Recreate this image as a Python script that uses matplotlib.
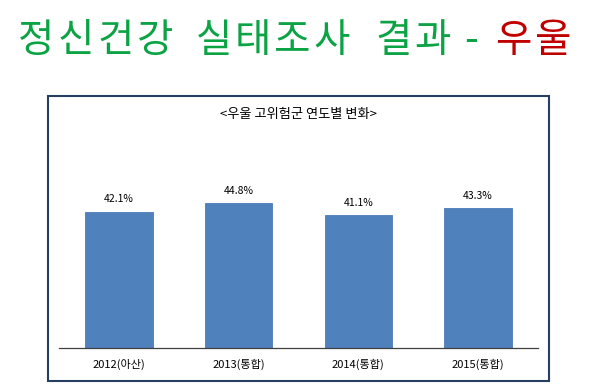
import matplotlib
matplotlib.use("Agg")
import matplotlib.pyplot as plt
from matplotlib.patches import Rectangle

plt.rcParams["font.family"] = ["Noto Sans CJK KR", "DejaVu Sans"]

# 데이터
categories = ["2012(아산)", "2013(통합)", "2014(통합)", "2015(통합)"]
values = [42.1, 44.8, 41.1, 43.3]
value_labels = ["42.1%", "44.8%", "41.1%", "43.3%"]

title_words = ["정신건강", "실태조사", "결과", "-", "우울"]
title_colors = ["#0ba344", "#0ba344", "#0ba344", "#0ba344", "#c00000"]

W, H = 600, 387
fig = plt.figure(figsize=(W / 100, H / 100), dpi=100)

# 큰 제목: 글자 간격이 넓어서 글자 하나씩 배치
word_x = [18, 195, 375, 463, 495]
pitch = 39.5
for word, col, x0 in zip(title_words, title_colors, word_x):
    for i, ch in enumerate(word):
        fig.text((x0 + pitch * i + 18.5) / W if ch != "-" else (x0 + 8) / W,
                 1 - 41 / H, ch, color=col, fontsize=28.5,
                 ha="center", va="center")

# 차트 테두리
box = Rectangle((48 / W, 1 - 381 / H), (549 - 48) / W, (381 - 96) / H,
                transform=fig.transFigure, fill=False,
                edgecolor="#243f60", linewidth=1.5)
fig.patches.append(box)

fig.text(298 / W, 1 - 114 / H, "<우울 고위험군 연도별 변화>",
         fontsize=9.5, ha="center", va="center", color="black")

# 막대 영역
ymax = 60
px_per_unit = 3.24
bottom_px, left_px, right_px = 348, 59, 538
top_px = bottom_px - ymax * px_per_unit
ax = fig.add_axes([left_px / W, 1 - bottom_px / H,
                   (right_px - left_px) / W, (bottom_px - top_px) / H])
x = range(len(categories))
ax.bar(x, values, width=0.565, color="#4f81bd", edgecolor="#4a7bb7", linewidth=0.6)
for i, (v, lab) in enumerate(zip(values, value_labels)):
    ax.text(i, v + 2.2, lab, ha="center", va="bottom", fontsize=7.5, color="black")

ax.set_xlim(-0.5, 3.5)
ax.set_ylim(0, ymax)
ax.set_xticks(list(x))
ax.set_xticklabels(categories, fontsize=8)
ax.tick_params(axis="x", length=0, pad=8)
ax.set_yticks([])
for s in ["left", "right", "top"]:
    ax.spines[s].set_visible(False)
ax.spines["bottom"].set_color("#404040")
ax.spines["bottom"].set_linewidth(0.9)
ax.patch.set_alpha(0)

fig.savefig("out.png", dpi=100)
